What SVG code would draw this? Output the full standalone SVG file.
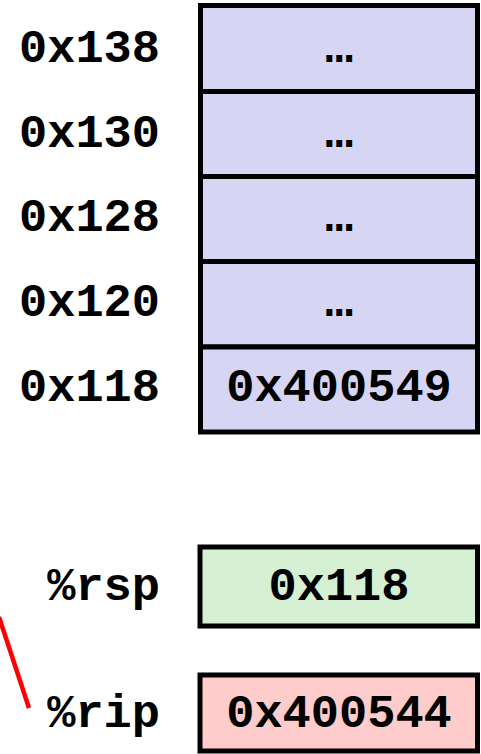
<svg xmlns="http://www.w3.org/2000/svg" width="481" height="754" viewBox="0 0 481 754">
<style>
  text { font-family: "Liberation Mono", "Courier New", monospace; font-weight: bold; font-size: 47px; fill: #000; }
  .lbl { text-anchor: end; }
  .val { text-anchor: middle; }
  .cell { fill: #D6D6F4; stroke: #000; stroke-width: 5; }
  .rsp { fill: #D6F0D4; stroke: #000; stroke-width: 5; }
  .rip { fill: #FFCCCC; stroke: #000; stroke-width: 5; }
  .conn { stroke: #FF0000; stroke-width: 4.5; fill: none; }
</style>
<g id="stack">
  <g id="cell-0x138">
    <rect class="cell" x="200.5" y="5.5" width="277" height="86"/>
    <text class="lbl" x="160" y="62">0x138</text>
    <text class="val" x="339" y="62">…</text>
  </g>
  <g id="cell-0x130">
    <rect class="cell" x="200.5" y="91.5" width="277" height="85"/>
    <text class="lbl" x="160" y="146.5">0x130</text>
    <text class="val" x="339" y="146.5">…</text>
  </g>
  <g id="cell-0x128">
    <rect class="cell" x="200.5" y="176.5" width="277" height="85"/>
    <text class="lbl" x="160" y="231">0x128</text>
    <text class="val" x="339" y="231">…</text>
  </g>
  <g id="cell-0x120">
    <rect class="cell" x="200.5" y="261.5" width="277" height="85.5"/>
    <text class="lbl" x="160" y="315.5">0x120</text>
    <text class="val" x="339" y="315.5">…</text>
  </g>
  <g id="cell-0x118">
    <rect class="cell" x="200.5" y="347" width="277" height="85"/>
    <text class="lbl" x="160" y="400.5">0x118</text>
    <text class="val" x="339" y="401">0x400549</text>
  </g>
</g>
<g id="reg-rsp">
  <rect class="rsp" x="200" y="547" width="277.5" height="79"/>
  <text class="lbl" x="160" y="600">%rsp</text>
  <text class="val" x="339" y="600">0x118</text>
</g>
<g id="reg-rip">
  <rect class="rip" x="200" y="675" width="277.5" height="76"/>
  <text class="lbl" x="160" y="727">%rip</text>
  <text class="val" x="339" y="727">0x400544</text>
</g>
<g id="connectors">
  <line class="conn" x1="-1" y1="617" x2="29" y2="708"/>
</g>
</svg>
